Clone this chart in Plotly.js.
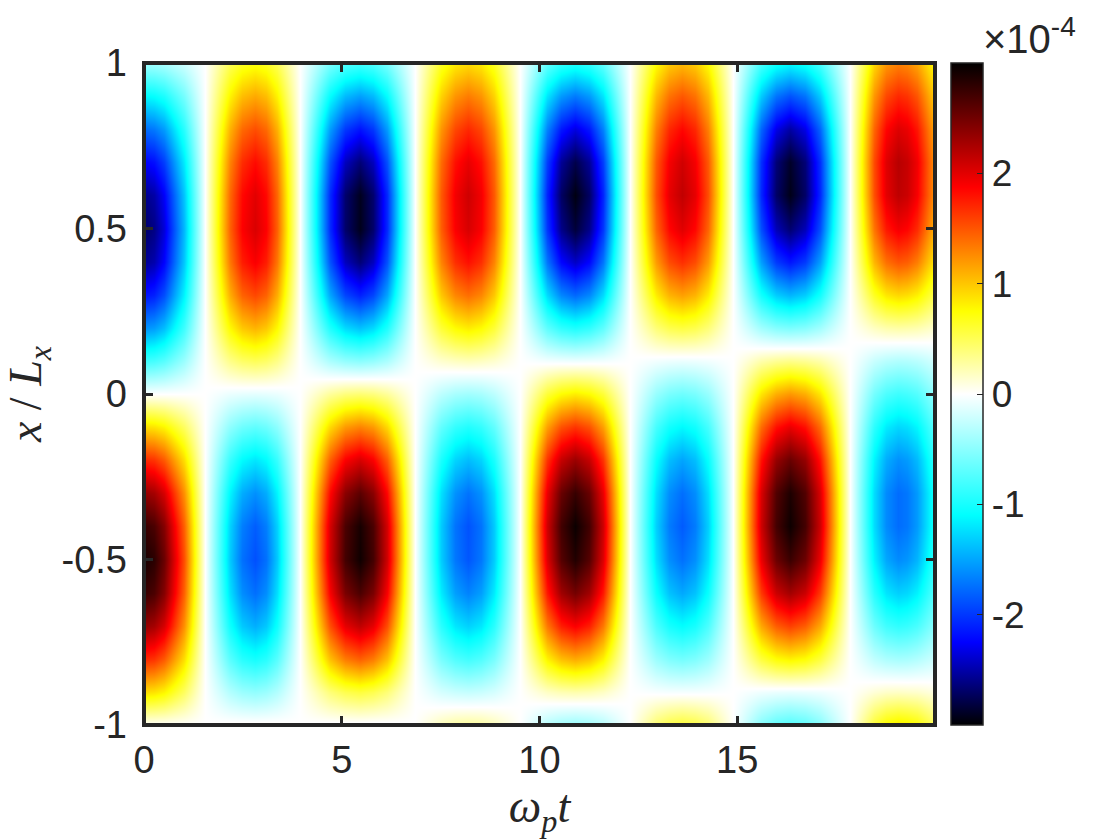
<!DOCTYPE html>
<html><head><meta charset="utf-8">
<script src="https://cdn.plot.ly/plotly-3.0.1.min.js"></script>
<style>html,body{margin:0;padding:0;background:#fff}</style></head>
<body><div id="chart" style="width:1120px;height:840px"></div>
<script>
const timeValues = [0,0.25,0.5,1,1.54, 2.17,2.49,2.8,3.09,3.37,3.94, 4.7,5.07,5.45,5.8,6.15,6.85, 7.52,7.86,8.2,8.53,8.86,9.51, 10.2,10.55,10.9,11.25,11.6,12.29, 12.95,13.27,13.6,13.92,14.25,14.89, 15.6,15.97,16.33,16.71,17.09,17.85, 18.45,18.76,19.06,19.3,19.55,20];
const positionValues = [-1,-0.9,-0.8,-0.7,-0.6,-0.5,-0.4,-0.3,-0.2,-0.1,0,0.1,0.2,0.3,0.4,0.5,0.6,0.7,0.8,0.9,1];
const zero = [0,0,0,0,0,0,0,0,0,0,0,0,0,0,0,0,0,0,0,0,0];
// one list per time column, bottom to top, in units of 1e-4
const fieldByTime = [
[0,.9,1.7,2.35,2.76,2.9,2.76,2.35,1.7,.9,0,-.83,-1.59,-2.18,-2.57,-2.7,-2.59,-2.26,-1.76,-1.12,-.4],
[0,.87,1.65,2.27,2.67,2.81,2.67,2.27,1.65,.87,0,-.8,-1.54,-2.11,-2.49,-2.61,-2.51,-2.19,-1.7,-1.08,-.39],
[0,.79,1.48,2.05,2.41,2.53,2.41,2.05,1.48,.79,0,-.72,-1.39,-1.9,-2.24,-2.36,-2.26,-1.97,-1.54,-.98,-.35],
[0,.47,.89,1.23,1.44,1.52,1.44,1.23,.89,.47,0,-.43,-.83,-1.14,-1.34,-1.41,-1.35,-1.18,-.92,-.59,-.21],
zero,
[.04,-.33,-.72,-1.04,-1.24,-1.34,-1.3,-1.14,-.86,-.49,-.09,.35,.77,1.11,1.35,1.45,1.42,1.3,1.09,.8,.5],
[.05,-.43,-.93,-1.34,-1.61,-1.74,-1.68,-1.47,-1.11,-.63,-.11,.45,.99,1.44,1.75,1.88,1.84,1.68,1.41,1.04,.64],
[.05,-.47,-1.01,-1.46,-1.75,-1.89,-1.83,-1.6,-1.21,-.69,-.12,.49,1.08,1.56,1.9,2.04,2.0,1.83,1.53,1.13,.7],
[.05,-.43,-.93,-1.34,-1.61,-1.74,-1.68,-1.47,-1.11,-.63,-.11,.45,.99,1.44,1.75,1.88,1.84,1.68,1.41,1.04,.64],
[.04,-.33,-.72,-1.04,-1.24,-1.34,-1.3,-1.14,-.86,-.49,-.09,.35,.77,1.11,1.35,1.45,1.42,1.3,1.09,.8,.5],
zero,
[-.04,.4,1.03,1.53,1.9,2.08,2.06,1.85,1.46,.92,.3,-.36,-.97,-1.5,-1.88,-2.07,-2.07,-1.88,-1.54,-1.09,-.57],
[-.05,.52,1.33,1.98,2.46,2.7,2.67,2.39,1.89,1.2,.39,-.46,-1.26,-1.94,-2.44,-2.69,-2.68,-2.44,-2.0,-1.41,-.74],
[-.05,.57,1.45,2.15,2.67,2.93,2.9,2.6,2.05,1.3,.42,-.5,-1.37,-2.11,-2.65,-2.92,-2.91,-2.65,-2.17,-1.53,-.8],
[-.05,.52,1.33,1.98,2.46,2.7,2.67,2.39,1.89,1.2,.39,-.46,-1.26,-1.94,-2.44,-2.69,-2.68,-2.44,-2.0,-1.41,-.74],
[-.04,.4,1.03,1.53,1.9,2.08,2.06,1.85,1.46,.92,.3,-.36,-.97,-1.5,-1.88,-2.07,-2.07,-1.88,-1.54,-1.09,-.57],
zero,
[.21,-.18,-.58,-.92,-1.18,-1.32,-1.33,-1.23,-.99,-.68,-.29,.14,.59,.99,1.29,1.46,1.48,1.4,1.21,.94,.64],
[.28,-.23,-.75,-1.2,-1.53,-1.71,-1.73,-1.59,-1.29,-.88,-.38,.18,.76,1.28,1.67,1.89,1.92,1.81,1.56,1.22,.83],
[.3,-.25,-.82,-1.3,-1.66,-1.86,-1.88,-1.73,-1.4,-.96,-.41,.2,.83,1.39,1.81,2.05,2.09,1.97,1.7,1.33,.9],
[.28,-.23,-.75,-1.2,-1.53,-1.71,-1.73,-1.59,-1.29,-.88,-.38,.18,.76,1.28,1.67,1.89,1.92,1.81,1.56,1.22,.83],
[.21,-.18,-.58,-.92,-1.18,-1.32,-1.33,-1.23,-.99,-.68,-.29,.14,.59,.99,1.29,1.46,1.48,1.4,1.21,.94,.64],
zero,
[-.32,.17,.8,1.34,1.77,2.02,2.09,1.96,1.65,1.17,.59,-.05,-.69,-1.26,-1.72,-2.01,-2.09,-1.97,-1.66,-1.21,-.67],
[-.41,.22,1.03,1.74,2.29,2.62,2.71,2.54,2.13,1.52,.76,-.06,-.89,-1.64,-2.23,-2.6,-2.71,-2.56,-2.15,-1.56,-.87],
[-.45,.24,1.12,1.89,2.49,2.85,2.95,2.76,2.32,1.65,.83,-.07,-.97,-1.78,-2.42,-2.83,-2.95,-2.78,-2.34,-1.7,-.95],
[-.41,.22,1.03,1.74,2.29,2.62,2.71,2.54,2.13,1.52,.76,-.06,-.89,-1.64,-2.23,-2.6,-2.71,-2.56,-2.15,-1.56,-.87],
[-.32,.17,.8,1.34,1.77,2.02,2.09,1.96,1.65,1.17,.59,-.05,-.69,-1.26,-1.72,-2.01,-2.09,-1.97,-1.66,-1.21,-.67],
zero,
[.43,-.03,-.43,-.77,-1.06,-1.24,-1.31,-1.24,-1.07,-.8,-.45,-.06,.4,.83,1.19,1.43,1.53,1.48,1.31,1.06,.75],
[.55,-.04,-.55,-1.0,-1.37,-1.6,-1.69,-1.61,-1.39,-1.03,-.58,-.08,.52,1.08,1.54,1.85,1.98,1.91,1.7,1.37,.97],
[.6,-.04,-.6,-1.09,-1.49,-1.74,-1.84,-1.75,-1.51,-1.12,-.63,-.09,.56,1.17,1.67,2.01,2.15,2.08,1.85,1.49,1.05],
[.55,-.04,-.55,-1.0,-1.37,-1.6,-1.69,-1.61,-1.39,-1.03,-.58,-.08,.52,1.08,1.54,1.85,1.98,1.91,1.7,1.37,.97],
[.43,-.03,-.43,-.77,-1.06,-1.24,-1.31,-1.24,-1.07,-.8,-.45,-.06,.4,.83,1.19,1.43,1.53,1.48,1.31,1.06,.75],
zero,
[-.53,-.07,.57,1.13,1.62,1.95,2.09,2.04,1.8,1.4,.86,.25,-.4,-1.02,-1.53,-1.9,-2.08,-2.04,-1.79,-1.33,-.78],
[-.69,-.09,.74,1.46,2.1,2.52,2.7,2.64,2.34,1.81,1.11,.32,-.52,-1.32,-1.99,-2.46,-2.7,-2.65,-2.32,-1.73,-1.01],
[-.75,-.1,.8,1.59,2.28,2.74,2.94,2.87,2.54,1.97,1.21,.35,-.56,-1.43,-2.16,-2.67,-2.93,-2.88,-2.52,-1.88,-1.1],
[-.69,-.09,.74,1.46,2.1,2.52,2.7,2.64,2.34,1.81,1.11,.32,-.52,-1.32,-1.99,-2.46,-2.7,-2.65,-2.32,-1.73,-1.01],
[-.53,-.07,.57,1.13,1.62,1.95,2.09,2.04,1.8,1.4,.86,.25,-.4,-1.02,-1.53,-1.9,-2.08,-2.04,-1.79,-1.33,-.78],
zero,
[.6,.12,-.27,-.63,-.93,-1.15,-1.25,-1.25,-1.14,-.91,-.6,-.24,.18,.65,1.07,1.36,1.53,1.55,1.43,1.21,.92],
[.78,.16,-.35,-.82,-1.21,-1.49,-1.62,-1.62,-1.47,-1.18,-.77,-.31,.24,.85,1.38,1.77,1.99,2.01,1.86,1.56,1.2],
[.85,.17,-.38,-.89,-1.31,-1.62,-1.76,-1.76,-1.6,-1.28,-.84,-.34,.26,.92,1.5,1.92,2.16,2.19,2.02,1.7,1.3],
[.82,.16,-.37,-.86,-1.27,-1.57,-1.71,-1.71,-1.55,-1.24,-.81,-.33,.25,.89,1.46,1.86,2.1,2.12,1.96,1.65,1.26],
[.75,.15,-.33,-.78,-1.15,-1.43,-1.55,-1.55,-1.41,-1.13,-.74,-.3,.23,.81,1.32,1.69,1.9,1.93,1.78,1.5,1.14],
[.47,.09,-.21,-.49,-.72,-.89,-.97,-.97,-.88,-.7,-.46,-.19,.14,.51,.83,1.06,1.19,1.2,1.11,.94,.72]
];
const xTicks = [0,5,10,15];
const yTicks = [-1,-0.5,0,0.5,1];
const yTickText = ["-1","-0.5","0","0.5","1"];
const barTicks = [-2,-1,0,1,2];
const barTickText = ["-2","-1","0","1","2"];
const colorStops = [[0,"#000000"],[0.125,"#0000ff"],[0.317,"#00ffff"],[0.5,"#ffffff"],[0.625,"#ffff00"],[0.812,"#ff0000"],[1,"#000000"]];

const ink = "#262626";
const sans = "Liberation Sans, Arial, sans-serif";
const z = positionValues.map((_, r) => fieldByTime.map(col => col[r]));

const trace = {
  type: "heatmap", x: timeValues, y: positionValues, z: z,
  zmin: -3, zmax: 3, zsmooth: "best", colorscale: colorStops, hoverinfo: "skip",
  colorbar: {
    x: 1.0196, xanchor: "left", xref: "paper", y: 0.5, yanchor: "middle", len: 1, lenmode: "fraction",
    thickness: 32, thicknessmode: "pixels", xpad: 0, ypad: 0,
    outlinewidth: 1.5, outlinecolor: ink, borderwidth: 0,
    tickmode: "array", tickvals: barTicks, ticktext: barTickText,
    ticks: "inside", ticklen: 6, tickwidth: 1, tickcolor: ink,
    tickfont: {family: sans, size: 37, color: ink}
  }
};
const axisCommon = {
  showgrid: false, zeroline: false, showline: false, ticks: "inside", ticklen: 9, tickwidth: 3,
  tickcolor: ink, mirror: "allticks", tickmode: "array",
  tickfont: {family: sans, size: 38, color: ink}
};
const layout = {
  width: 1120, height: 840, paper_bgcolor: "#fff", plot_bgcolor: "#fff",
  margin: {l: 144, r: 185, t: 63, b: 115, pad: 0},
  xaxis: Object.assign({}, axisCommon, {
    range: [0, 20], tickvals: xTicks, ticktext: xTicks.map(String), ticklabelstandoff: 9,
    title: {text: "<i>ω<sub>p</sub>t</i>", font: {family: "Liberation Serif, serif", size: 46, color: ink}, standoff: 5}
  }),
  yaxis: Object.assign({}, axisCommon, {
    range: [-1, 1], tickvals: yTicks, ticktext: yTickText, ticklabelstandoff: 16,
    title: {text: "<i>x</i> / <i>L<sub>x</sub></i>", font: {family: "Liberation Serif, serif", size: 46, color: ink}, standoff: 15}
  }),
  shapes: [{type: "rect", xref: "paper", yref: "paper", x0: 0, x1: 1, y0: 0, y1: 1,
    line: {color: ink, width: 4}, fillcolor: "rgba(0,0,0,0)", layer: "above"}],
  annotations: [{xref: "paper", yref: "paper", x: 1.0580, y: 1.0, xanchor: "left", yanchor: "bottom",
    text: "×10<sup>-4</sup>", showarrow: false, font: {family: sans, size: 40, color: ink}}]
};
Plotly.newPlot("chart", [trace], layout, {displayModeBar: false, staticPlot: true});
</script></body></html>
